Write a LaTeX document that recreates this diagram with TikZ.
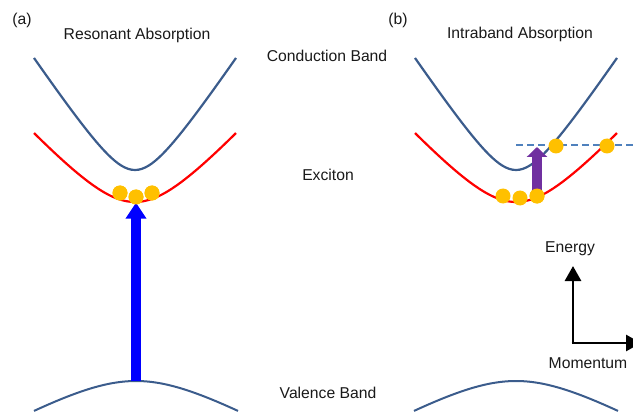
\documentclass[tikz,border=0pt]{standalone}
\usepackage{fontspec}
\setmainfont{Liberation Sans}
\usepackage{xcolor}
\usetikzlibrary{arrows.meta,positioning}

\definecolor{bandblue}{RGB}{59,92,140}
\definecolor{dotgold}{RGB}{255,192,0}
\definecolor{pumpblue}{RGB}{0,0,255}
\definecolor{ibpurple}{RGB}{112,48,160}
\definecolor{dashblue}{RGB}{79,129,189}

\begin{document}
\begin{tikzpicture}[x=1pt, y=-1pt,
  txt/.style={font=\fontsize{15.7}{18}\selectfont, inner sep=0pt, text=black!90},
  cband/.style={draw=bandblue, line width=2.2pt},
  exband/.style={draw=red, line width=2.2pt},
  vband/.style={draw=bandblue, line width=2pt},
  dot/.style={circle, fill=dotgold, inner sep=0pt, minimum size=15pt},
  pump/.style={-{Triangle[width=20pt,length=16pt]}, line width=10pt, draw=pumpblue},
  ibarr/.style={-{Triangle[width=20pt,length=10pt]}, line width=10pt, draw=ibpurple},
  axis/.style={-{Triangle[width=16pt,length=15pt]}, line width=2.8pt, draw=black},
]
  \useasboundingbox (0,0) rectangle (633,412);

  %% labels
  \node[txt] (lblA)   at (22,20)   {(a)};
  \node[txt] (titleA) at (137,35)  {Resonant Absorption};
  \node[txt] (lblB)   at (398,20)  {(b)};
  \node[txt] (titleB) at (520,34)  {Intraband Absorption};
  \node[txt] (cbLbl)  at (327,56)  {Conduction Band};
  \node[txt] (exLbl)  at (328,175) {Exciton};
  \node[txt] (vbLbl)  at (328,393) {Valence Band};

  %% (a) resonant absorption
  \draw[cband] plot[domain=-101:101, samples=61]
    ({135+\x}, {170-44.6*(sqrt(1+(\x/30)*(\x/30))-1)});
  \draw[exband] plot[domain=-101:101, samples=61]
    ({135+\x}, {202-55*(sqrt(1+(\x/50)*(\x/50))-1)});
  \draw[vband] plot[domain=-102:102, samples=61]
    ({136+\x}, {381+39*(sqrt(1+(\x/70)*(\x/70))-1)});
  \coordinate (vpa) at (136,381);
  \node[dot] (da1) at (120,193) {};
  \node[dot] (da3) at (152,193) {};
  \node[dot] (da2) at (136,197) {};
  \draw[pump] (vpa) -- ([yshift=2pt]da2.south);
  \node[dot] at (da1) {};
  \node[dot] at (da3) {};
  \node[dot] at (da2) {};

  %% (b) intraband absorption
  \draw[cband] plot[domain=-101:101, samples=61]
    ({516+\x}, {170-44.6*(sqrt(1+(\x/30)*(\x/30))-1)});
  \draw[exband] plot[domain=-101:101, samples=61]
    ({516+\x}, {202-55*(sqrt(1+(\x/50)*(\x/50))-1)});
  \draw[vband] plot[domain=-102:102, samples=61]
    ({516+\x}, {381+39*(sqrt(1+(\x/70)*(\x/70))-1)});
  \coordinate (dl) at (516,145);
  \coordinate (dr) at (633,145);
  \draw[dashblue, line width=1.2pt, dash pattern=on 7pt off 4pt] (dl) -- (dr);
  \node[dot] (db1) at (503,196) {};
  \node[dot] (db2) at (520,198) {};
  \node[dot] (db3) at (537,196) {};
  \coordinate (ibtop) at (537,147);
  \draw[ibarr] (db3.center) -- (ibtop);
  \node[dot] at (db3) {};
  \node[dot] (dc1) at (556,146) {};
  \node[dot] (dc2) at (607,146) {};

  %% axes
  \coordinate (org)  at (573,343);
  \coordinate (etip) at (573,266);
  \coordinate (mtip) at (641,343);
  \draw[axis] ([yshift=1.4pt]org) -- (etip);
  \draw[axis] ([xshift=-1.4pt]org) -- (mtip);
  \node[txt] (enLbl) at (570,249) {Energy};
  \node[txt] (moLbl) at (588,363) {Momentum};
\end{tikzpicture}
\end{document}
